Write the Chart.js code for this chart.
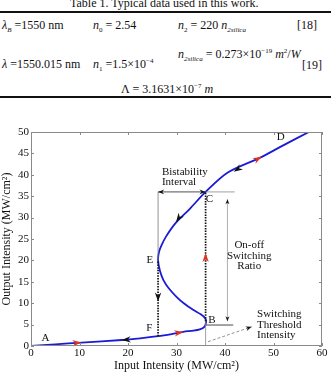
<!DOCTYPE html>
<html>
<head>
<meta charset="utf-8">
<script src="https://cdn.jsdelivr.net/npm/chart.js@4.4.1/dist/chart.umd.min.js"></script>
<style>
  html, body { margin: 0; padding: 0; background: #fff; }
  #wrap { position: relative; width: 331px; height: 373px; overflow: hidden; }
  #wrap canvas { position: absolute; left: 0; top: 0; }
  .t { position: absolute; font-family: "Liberation Serif", serif; font-size: 12px; line-height: 14px; color: #111; white-space: nowrap; }
  .t i { font-style: italic; }
  .t sub, .t sup { font-size: 7px; line-height: 0; }
  .rule { position: absolute; left: 0; width: 331px; height: 2px; background: #111; }
</style>
</head>
<body>
<div id="wrap">
  <div class="t" style="left:70px;top:-4px;">Table 1. Typical data used in this work.</div>
  <div class="rule" style="top:11px;"></div>
  <div class="t" style="left:2px;top:18px;"><i>λ</i><sub><i>B</i></sub> =1550 nm</div>
  <div class="t" style="left:93px;top:18px;"><i>n</i><sub>0</sub> = 2.54</div>
  <div class="t" style="left:178px;top:18px;"><i>n</i><sub>2</sub> = 220 <i>n</i><sub><i>2silica</i></sub></div>
  <div class="t" style="left:297px;top:18px;">[18]</div>
  <div class="t" style="left:2px;top:57px;"><i>λ</i> =1550.015 nm</div>
  <div class="t" style="left:93px;top:57px;"><i>n</i><sub>1</sub> =1.5×10<sup>−4</sup></div>
  <div class="t" style="left:178px;top:47px;"><i>n</i><sub><i>2silica</i></sub> = 0.273×10<sup>−19</sup> <i>m</i><sup>2</sup>/<i>W</i></div>
  <div class="t" style="left:302px;top:58px;">[19]</div>
  <div class="t" style="left:121px;top:82px;">Λ = 3.1631×10<sup>−7</sup> <i>m</i></div>
  <div class="rule" style="top:96px;"></div>
  <canvas id="bistChart" width="331" height="373"></canvas>
</div>
<script>
// S-shaped bistability curve (input, output in MW/cm2)
const inputIntensity = [0, 5, 10.4, 18.7, 22.5, 26.2, 29, 31.4, 33.5, 34.8, 35.7, 36.1, 35.9, 35, 33.5, 31.5, 30, 28.4, 27.3, 26.6, 26.2, 26.4, 26.9, 27.8, 29.8, 32.7, 36, 40.5, 47.6, 52.2, 57.3];
const outputIntensity = [0, 0.4, 0.8, 1.4, 1.8, 2.3, 2.8, 3.3, 3.6, 3.9, 4.4, 5.6, 6.5, 7.4, 8.4, 10, 11.5, 13.5, 15.4, 17.5, 20, 22, 23.5, 25.5, 28.7, 32, 36, 40.5, 44.2, 47, 50];
const xTicks = [0, 10, 20, 30, 40, 50, 60];
const yTicks = [0, 5, 10, 15, 20, 25, 30, 35, 40, 45, 50];

const pointLabels = ['A', 'B', 'C', 'D', 'E', 'F'];
const pointLabelX = [3.0, 37.3, 36.8, 51.5, 24.5, 24.4];
const pointLabelY = [1.8, 6.1, 34.3, 48.8, 20.1, 4.1];

const curvePoints = inputIntensity.map((v, i) => ({ x: v, y: outputIntensity[i] }));

const serif = '"Liberation Serif", "Times New Roman", serif';
const blue = '#1b1bd6';
const red = '#e0321e';

function head(ctx, tipX, tipY, dirX, dirY, color, len, wid) {
    const d = Math.hypot(dirX, dirY) || 1;
    const ux = dirX / d, uy = dirY / d;
    const bx = tipX - ux * len, by = tipY - uy * len;
    const nx = tipX - ux * len * 0.7, ny = tipY - uy * len * 0.7;
    ctx.save();
    ctx.fillStyle = color;
    ctx.beginPath();
    ctx.moveTo(tipX, tipY);
    ctx.lineTo(bx - uy * wid, by + ux * wid);
    ctx.lineTo(nx, ny);
    ctx.lineTo(bx + uy * wid, by - ux * wid);
    ctx.closePath();
    ctx.fill();
    ctx.restore();
}

const annotations = {
    id: 'annotations',
    afterDatasetsDraw(chart) {
        const ctx = chart.ctx;
        const xs = chart.scales.x, ys = chart.scales.y;
        const px = v => xs.getPixelForValue(v);
        const py = v => ys.getPixelForValue(v);

        function line(x1, y1, x2, y2, color, w, dash) {
            ctx.save();
            ctx.strokeStyle = color;
            ctx.lineWidth = w;
            ctx.setLineDash(dash || []);
            ctx.beginPath();
            ctx.moveTo(px(x1), py(y1));
            ctx.lineTo(px(x2), py(y2));
            ctx.stroke();
            ctx.restore();
        }
        function arrow(x, y, dx, dy, color, len, wid) {
            const tx = px(x), ty = py(y);
            head(ctx, tx, ty, px(x + dx) - tx, py(y + dy) - ty, color, len || 9, wid || 3.2);
        }
        function text(s, x, y, align) {
            ctx.save();
            ctx.fillStyle = '#111';
            ctx.font = '11px ' + serif;
            ctx.textAlign = align || 'left';
            ctx.textBaseline = 'middle';
            ctx.fillText(s, px(x), py(y));
            ctx.restore();
        }

        // bistability interval
        line(26.2, 20, 26.2, 36, '#777', 0.8);
        line(26.2, 2.3, 26.2, 20, '#111', 1.7, [1.5, 1.2]);
        arrow(26.2, 10.4, 0, -1, '#111');
        line(26.2, 36, 36, 36, '#222', 0.8);
        arrow(26.2, 36, -1, 0, '#111', 6, 2.4);
        arrow(36, 36, 1, 0, '#111', 6, 2.4);

        // switching up at B
        line(36, 0, 36, 5.8, '#888', 0.8);
        line(36, 5.8, 36, 36, '#111', 1.7, [1.5, 1.2]);
        arrow(36, 21.7, 0, 1, red);

        // on-off switching ratio
        line(36, 36, 42, 36, '#888', 0.8);
        line(36.1, 4.9, 41.7, 4.9, '#333', 0.9);
        line(40.5, 34.3, 40.5, 5.8, '#999', 0.8);
        arrow(40.5, 34.3, 0, 1, '#111', 5, 2);
        arrow(40.5, 5.8, 0, -1, '#111', 5, 2);

        // switching threshold pointer
        line(36.5, 1.0, 45.5, 4.5, '#777', 0.8, [3, 2]);
        arrow(45.5, 4.5, 9, 3.5, '#111', 6, 2.4);

        // arrows along the curve
        arrow(10.4, 0.8, 1, 0.08, red);
        arrow(18.7, 1.4, -1, -0.08, '#111');
        arrow(31.4, 3.3, 1, 0.2, red);
        arrow(47.6, 44.2, 1, 0.6, red);
        arrow(41.8, 40.7, -1, -0.75, '#111');
        arrow(29.9, 29, -1, -1.6, '#111');

        // text
        pointLabels.forEach((s, i) => text(s, pointLabelX[i], pointLabelY[i], 'center'));
        text('Bistability', 27.0, 40.7);
        text('Interval', 27.0, 38.2);
        text('On-off', 45.0, 23.6, 'center');
        text('Switching', 45.0, 21.0, 'center');
        text('Ratio', 45.0, 18.7, 'center');
        text('Switching', 46.6, 7.5);
        text('Threshold', 46.6, 4.9);
        text('Intensity', 46.6, 2.6);
    },
    afterDraw(chart) {
        // matlab style box with inward ticks
        const ctx = chart.ctx;
        const a = chart.chartArea;
        const xs = chart.scales.x, ys = chart.scales.y;
        ctx.save();
        ctx.strokeStyle = '#8a8a8a';
        ctx.lineWidth = 1;
        ctx.strokeRect(a.left + 0.5, a.top + 0.5, a.right - a.left - 1, a.bottom - a.top - 1);
        ctx.beginPath();
        xTicks.forEach(v => {
            const x = Math.round(xs.getPixelForValue(v)) + 0.5;
            ctx.moveTo(x, a.bottom); ctx.lineTo(x, a.bottom - 3);
            ctx.moveTo(x, a.top); ctx.lineTo(x, a.top + 3);
        });
        yTicks.forEach(v => {
            const y = Math.round(ys.getPixelForValue(v)) + 0.5;
            ctx.moveTo(a.left, y); ctx.lineTo(a.left + 3, y);
            ctx.moveTo(a.right, y); ctx.lineTo(a.right - 3, y);
        });
        ctx.stroke();
        ctx.restore();
    }
};

new Chart(document.getElementById('bistChart'), {
    type: 'scatter',
    data: {
        datasets: [{
            data: curvePoints,
            showLine: true,
            borderColor: blue,
            borderWidth: 1.8,
            pointRadius: 0,
            tension: 0.3,
            fill: false
        }]
    },
    options: {
        responsive: false,
        animation: false,
        layout: { padding: { top: 132, right: 9, left: 0, bottom: 0 } },
        plugins: {
            legend: { display: false },
            tooltip: { enabled: false }
        },
        scales: {
            x: {
                type: 'linear',
                min: 0,
                max: 60,
                afterBuildTicks: s => { s.ticks = xTicks.map(v => ({ value: v })); },
                afterFit: s => { s.height = 27; },
                grid: { display: false, drawTicks: false },
                border: { display: false },
                ticks: { color: '#111', font: { family: serif, size: 11 }, padding: 1, maxRotation: 0 },
                title: { display: true, text: 'Input Intensity (MW/cm²)', color: '#111', font: { family: serif, size: 12 }, padding: { top: 0, bottom: 0 } }
            },
            y: {
                type: 'linear',
                min: 0,
                max: 50,
                afterBuildTicks: s => { s.ticks = yTicks.map(v => ({ value: v })); },
                afterFit: s => { s.width = 31; },
                grid: { display: false, drawTicks: false },
                border: { display: false },
                ticks: { color: '#111', font: { family: serif, size: 11 }, padding: 2 },
                title: { display: true, text: 'Output Intensity (MW/cm²)', color: '#111', font: { family: serif, size: 12 }, padding: { top: 0, bottom: 0 } }
            }
        }
    },
    plugins: [annotations]
});
</script>
</body>
</html>
